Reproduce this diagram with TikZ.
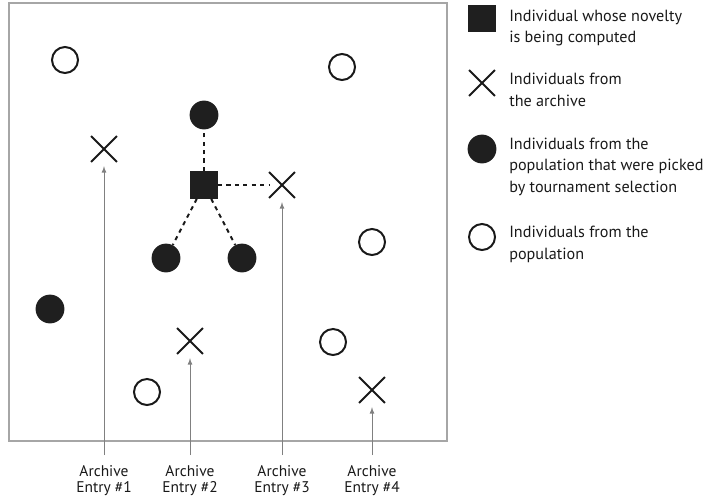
\documentclass[tikz,border=0pt]{standalone}
\usepackage{fontspec}
\setmainfont{PT Sans}
\usetikzlibrary{shapes.misc}

\tikzset{
  indiv/.style={circle, draw=black!90, line width=1.4pt, fill=white, minimum size=0.65cm, inner sep=0pt},
  picked/.style={circle, fill=black!88, minimum size=0.72cm, inner sep=0pt},
  current/.style={rectangle, fill=black!88, minimum size=0.68cm, inner sep=0pt},
  archived/.style={cross out, draw=black!90, line width=1.4pt, minimum size=0.6cm, inner sep=0pt},
  link/.style={dashed, line width=1.4pt, black!90},
  pointer/.style={-latex, draw=black!50, line width=0.6pt, shorten >=3pt, shorten <=7pt},
  caption/.style={font=\fontsize{11}{11.5}\selectfont, align=center, inner sep=0pt, anchor=north, text=black!90},
  legendtext/.style={font=\fontsize{11.5}{15.2}\selectfont, align=left, anchor=base west, inner sep=0pt, text=black!90}
}

\begin{document}
\begin{tikzpicture}[x=0.025cm, y=-0.025cm]
        \useasboundingbox (0,0) rectangle (703,500);
        \draw[black!35, line width=1.2pt] (9,3) rectangle (447,441);

        % population
        \node[indiv] (p1) at (65,60) {};
        \node[indiv] (p2) at (342,67) {};
        \node[indiv] (p3) at (372,242) {};
        \node[indiv] (p4) at (333,342) {};
        \node[indiv] (p5) at (147,392) {};

        % picked by tournament
        \node[picked] (t1) at (204,115) {};
        \node[picked] (t2) at (166,258) {};
        \node[picked] (t3) at (242,258) {};
        \node[picked] (t4) at (50,309) {};

        % archive
        \node[archived] (a1) at (104,149) {};
        \node[archived] (a2) at (190,341) {};
        \node[archived] (a3) at (282,185) {};
        \node[archived] (a4) at (372,390) {};

        \node[current] (cur) at (204,185) {};
        \draw[link] (cur) -- (t1);
        \draw[link] (cur) -- (t2);
        \draw[link] (cur) -- (t3);
        \draw[link] (cur) -- (a3);

        \node[caption] (e1) at (104,465) {Archive\\Entry \#1};
        \node[caption] (e2) at (190,465) {Archive\\Entry \#2};
        \node[caption] (e3) at (282,465) {Archive\\Entry \#3};
        \node[caption] (e4) at (372,465) {Archive\\Entry \#4};
        \draw[pointer] (e1) -- (a1);
        \draw[pointer] (e2) -- (a2);
        \draw[pointer] (e3) -- (a3);
        \draw[pointer] (e4) -- (a4);

        % legend (base = last line)
        \node[current] (kcur) at (482,18.5) {};
        \node[legendtext] (lcur) at (509,42.7) {Individual whose novelty\\is being computed};
        \node[archived] (karc) at (482,83) {};
        \node[legendtext] (larc) at (509,106) {Individuals from\\the archive};
        \node[picked] (kpick) at (482,149) {};
        \node[legendtext] (lpick) at (509,192) {Individuals from the\\population that were picked\\by tournament selection};
        \node[indiv] (kpop) at (482,237) {};
        \node[legendtext] (lpop) at (509,259) {Individuals from the\\population};
    \end{tikzpicture}
\end{document}
